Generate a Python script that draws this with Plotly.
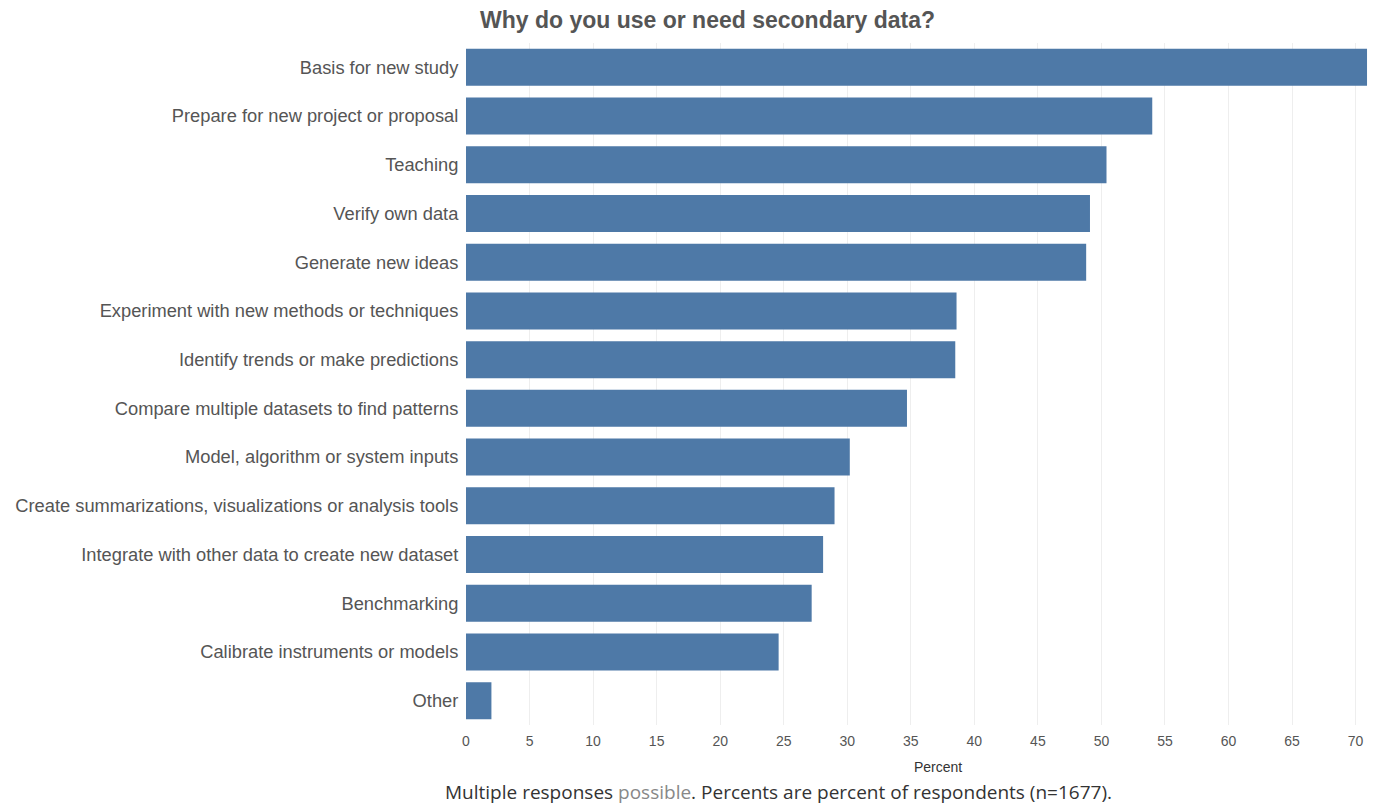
import plotly.graph_objects as go

categories = [
    "Basis for new study",
    "Prepare for new project or proposal",
    "Teaching",
    "Verify own data",
    "Generate new ideas",
    "Experiment with new methods or techniques",
    "Identify trends or make predictions",
    "Compare multiple datasets to find patterns",
    "Model, algorithm or system inputs",
    "Create summarizations, visualizations or analysis tools",
    "Integrate with other data to create new dataset",
    "Benchmarking",
    "Calibrate instruments or models",
    "Other",
]
percents = [70.9, 54.0, 50.4, 49.1, 48.8, 38.6, 38.5, 34.7, 30.2, 29.0, 28.1, 27.2, 24.6, 2.0]
tick_values = list(range(0, 75, 5))

fig = go.Figure(
    go.Bar(
        x=percents,
        y=categories,
        orientation="h",
        marker=dict(color="#4e79a7", line=dict(width=0)),
        width=0.76,
    )
)

fig.update_layout(
    width=1393,
    height=804,
    paper_bgcolor="white",
    plot_bgcolor="white",
    margin=dict(l=466, r=12, t=43, b=79),
    showlegend=False,
    title=dict(
        text="<b>Why do you use or need secondary data?</b>",
        font=dict(family="Liberation Sans, Arial", size=23, color="#555555"),
        x=480 / 1393,
        xanchor="left",
        y=1 - 20 / 804,
        yanchor="middle",
    ),
    font=dict(family="Liberation Sans, Arial", color="#555555"),
)

fig.update_xaxes(
    range=[0, 72],
    tickvals=tick_values,
    tickfont=dict(size=14, color="#555555"),
    showgrid=True,
    gridcolor="#eeeeee",
    gridwidth=1,
    zeroline=False,
    showline=False,
    ticks="outside",
    ticklen=3,
    tickcolor="rgba(0,0,0,0)",
)

fig.update_yaxes(
    categoryorder="array",
    categoryarray=categories,
    autorange="reversed",
    tickfont=dict(size=18.3, color="#555555"),
    ticks="outside",
    ticklen=3,
    tickcolor="rgba(0,0,0,0)",
    showgrid=False,
    zeroline=False,
    showline=False,
)

# x-axis title
fig.add_annotation(
    text="Percent",
    xref="paper",
    yref="paper",
    x=(938 - 466) / 915,
    y=-(767 - 725) / 682,
    xanchor="center",
    yanchor="middle",
    showarrow=False,
    font=dict(family="Liberation Sans, Arial", size=14, color="#333333"),
)

fig.add_annotation(
    text='Multiple responses <span style="color:#888888">possible</span>. Percents are percent of respondents (n=1677).',
    xref="paper",
    yref="paper",
    x=(778 - 466) / 915,
    y=-(792 - 725) / 682,
    xanchor="center",
    yanchor="middle",
    showarrow=False,
    font=dict(family="Open Sans, Noto Sans", size=19, color="#333333"),
)

fig.write_html("out.html")
